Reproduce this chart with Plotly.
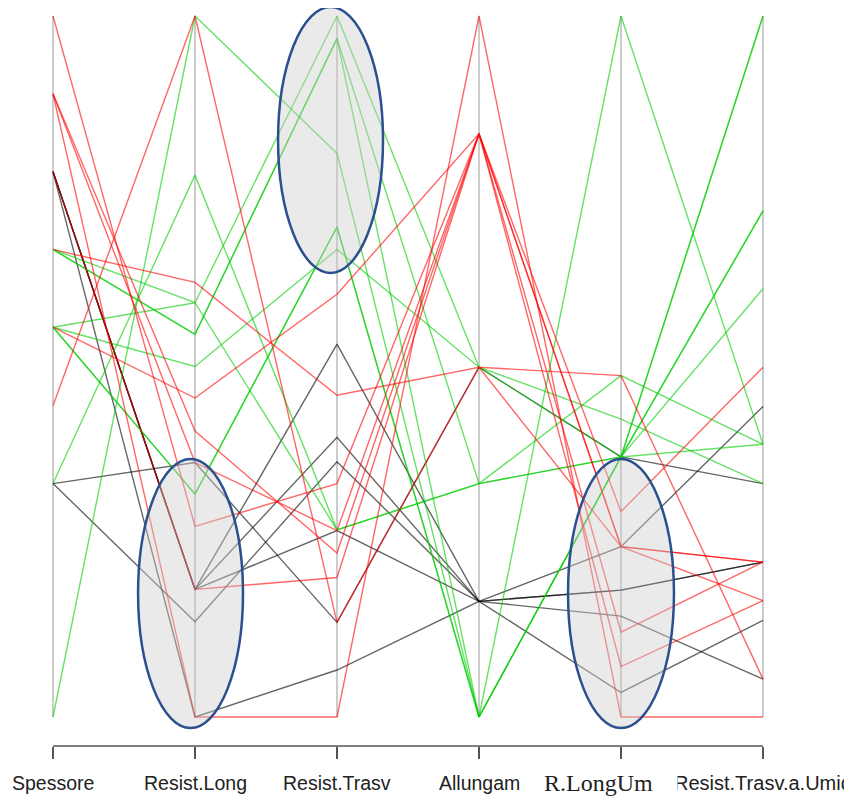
import plotly.graph_objects as go

# Axis (variable) names
axis_labels = ["Spessore", "Resist.Long", "Resist.Trasv", "Allungam", "R.LongUm", "Resist.Trasv.a.Umid"]

# Normalised values (0-1 per axis) for each observation, grouped by class colour
green_rows = [
    [0.000, 1.000, 0.804, 0.000, 1.000, 0.389],
    [0.333, 0.773, 0.267, 0.333, 0.487, 0.389],
    [0.667, 0.591, 1.000, 0.499, 0.371, 0.722],
    [0.667, 0.546, 0.968, 0.000, 0.371, 1.000],
    [0.556, 0.591, 0.267, 0.333, 0.371, 0.611],
    [0.556, 0.500, 0.667, 0.499, 0.425, 0.333],
    [0.556, 0.318, 0.699, 0.000, 0.371, 1.000],
    [0.667, 0.546, 0.968, 0.333, 0.371, 0.389],
    [0.556, 0.318, 0.699, 0.000, 0.371, 0.722],
]
red_rows = [
    [0.444, 1.000, 0.135, 0.499, 0.487, 0.054],
    [0.667, 0.620, 0.459, 0.499, 0.243, 0.221],
    [0.556, 0.455, 0.603, 0.832, 0.293, 0.499],
    [0.889, 0.408, 0.234, 0.832, 0.243, 0.221],
    [0.889, 0.363, 0.266, 0.832, 0.243, 0.166],
    [1.000, 0.272, 0.333, 0.832, 0.121, 0.221],
    [0.778, 0.182, 0.199, 0.832, 0.072, 0.166],
    [0.889, 0.000, 0.000, 1.000, 0.000, 0.000],
]
black_rows = [
    [0.778, 0.182, 0.532, 0.165, 0.243, 0.443],
    [0.778, 0.182, 0.399, 0.165, 0.144, 0.054],
    [0.778, 0.182, 0.266, 0.165, 0.181, 0.221],
    [0.778, 0.000, 0.067, 0.165, 0.035, 0.138],
    [0.333, 0.363, 0.135, 0.499, 0.371, 0.333],
    [0.333, 0.136, 0.364, 0.165, 0.181, 0.221],
]

# Highlight ellipses: (x0, x1, y0, y1) in axis-index / normalised units
ellipses = [
    (1.585, 2.324, 0.6334, 1.0128),
    (0.599, 1.338, -0.0157, 0.368),
    (3.627, 4.373, -0.0157, 0.368),
]

xs = list(range(len(axis_labels)))
fig = go.Figure()

groups = [
    (black_rows, "rgba(0,0,0,0.6)"),
    (green_rows, "rgba(0,205,0,0.6)"),
    (red_rows, "rgba(255,0,0,0.6)"),
]
for rows, col in groups:
    for r in rows:
        fig.add_trace(go.Scatter(x=xs, y=r, mode="lines",
                                 line=dict(color=col, width=1.4),
                                 showlegend=False, hoverinfo="skip"))

shapes = []
for i in xs:
    shapes.append(dict(type="line", xref="x", yref="y", x0=i, x1=i, y0=0, y1=1,
                       line=dict(color="#cccccc", width=2), layer="below"))
# bottom axis line
shapes.append(dict(type="line", xref="x", yref="paper", x0=0, x1=len(xs) - 1, y0=0, y1=0,
                   line=dict(color="#555555", width=1.5)))
for (x0, x1, y0, y1) in ellipses:
    shapes.append(dict(type="circle", xref="x", yref="y", x0=x0, x1=x1, y0=y0, y1=y1,
                       fillcolor="rgba(205,205,205,0.42)",
                       line=dict(color="#2c4f8e", width=2.5), layer="above"))

# figure is placed 8px in from the page corner, so work in figure pixels
W, H = 844, 790
plot_bottom = 738          # page y 746
label_y = (plot_bottom - 775) / plot_bottom

sans = dict(family="Liberation Sans, Arial, sans-serif", size=19.5, color="#222222")
annotations = []
for i, lab in enumerate(axis_labels):
    if lab == "R.LongUm":
        continue
    f = dict(sans)
    if lab == "Resist.Trasv.a.Umid":
        f["size"] = 20
    annotations.append(dict(x=i, y=label_y, xref="x", yref="paper", text=lab,
                            showarrow=False, xanchor="center", yanchor="middle", font=f))
# the serif label sits a little left of its tick, on a white patch
annotations.append(dict(x=(543 - 53) / 142, y=label_y, xref="x", yref="paper",
                        text="R.LongUm&nbsp;&nbsp;&nbsp;&nbsp;", showarrow=False,
                        xanchor="left", yanchor="middle", bgcolor="white", borderpad=0,
                        font=dict(family="Liberation Serif, Times New Roman, serif",
                                  size=24, color="#222222")))

fig.update_layout(
    width=W, height=H,
    margin=dict(l=0, r=0, t=0, b=H - plot_bottom),
    paper_bgcolor="white", plot_bgcolor="white",
    shapes=shapes, annotations=annotations,
    xaxis=dict(range=[-45 / 142, 5 + 89 / 142], showgrid=False, zeroline=False,
               showline=False, tickvals=xs, ticks="outside", ticklen=12,
               tickwidth=1.5, tickcolor="#555555", showticklabels=False, fixedrange=True),
    yaxis=dict(range=[-29 / 701, 1 + 8 / 701], visible=False, fixedrange=True),
)

fig.write_html("out.html")
